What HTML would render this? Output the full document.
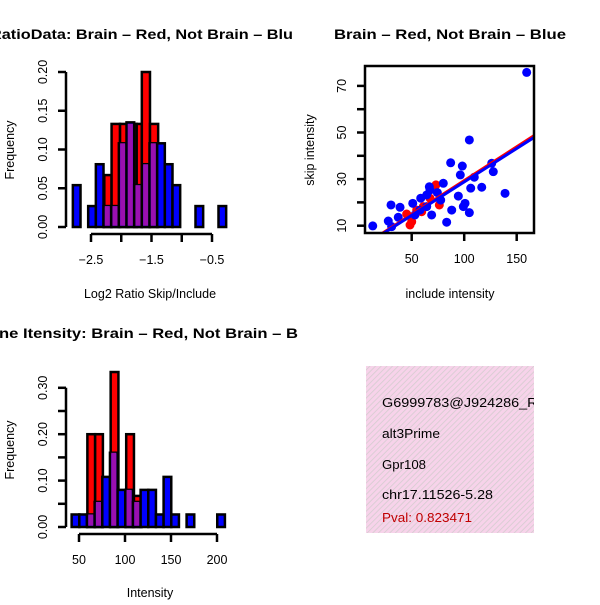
<!DOCTYPE html>
<html><head><meta charset="utf-8"><style>
html,body{margin:0;padding:0;background:#fff;}
svg text{font-family:"Liberation Sans",Arial,sans-serif;}
</style></head><body>
<svg id="s" width="600" height="600" viewBox="0 0 600 600" xmlns="http://www.w3.org/2000/svg">
<defs>
<pattern id="hatch" patternUnits="userSpaceOnUse" width="4" height="4" patternTransform="rotate(45)">
<rect width="4" height="4" fill="#f7d3ea"/>
<line x1="0" y1="0" x2="0" y2="4" stroke="#d4cccf" stroke-width="1.6"/>
</pattern>
<clipPath id="c1"><rect x="0" y="0" width="300" height="300"/></clipPath>
<clipPath id="c3"><rect x="0" y="300" width="300" height="300"/></clipPath>
<clipPath id="cs"><rect x="365" y="66" width="169" height="167"/></clipPath>
<clipPath id="cb"><rect x="366" y="366" width="168" height="167"/></clipPath>
</defs>
<g clip-path="url(#c1)"><text x="-10" y="39" textLength="303" lengthAdjust="spacingAndGlyphs" font-size="14" font-weight="bold">RatioData: Brain – Red, Not Brain – Blu</text></g>
<text x="334" y="39" textLength="232" lengthAdjust="spacingAndGlyphs" font-size="14" font-weight="bold">Brain – Red, Not Brain – Blue</text>
<g clip-path="url(#c3)"><text x="-1" y="338" textLength="299" lengthAdjust="spacingAndGlyphs" font-size="14" font-weight="bold">ne Itensity: Brain – Red, Not Brain – B</text></g>
<g id="h1"></g>
<g id="h2"></g>
<g id="sc"></g>
<g clip-path="url(#cb)">
<rect x="366" y="366" width="168" height="167" fill="url(#hatch)"/>
<text x="382" y="407" font-size="13" textLength="166" lengthAdjust="spacingAndGlyphs">G6999783@J924286_RC</text>
<text x="382" y="438" font-size="13" textLength="58" lengthAdjust="spacingAndGlyphs">alt3Prime</text>
<text x="382" y="469" font-size="13" textLength="44" lengthAdjust="spacingAndGlyphs">Gpr108</text>
<text x="382" y="499" font-size="13" textLength="111" lengthAdjust="spacingAndGlyphs">chr17.11526-5.28</text>
<text x="382" y="522" font-size="13" fill="#c00000" textLength="90" lengthAdjust="spacingAndGlyphs">Pval: 0.823471</text>
</g>
</svg>
<script>
// ---- Histogram 1 data ----
const h1BlueStart = -2.80;
const h1BlueStep = 0.1267;
const h1Blue = [0.054,0,0.027,0.081,0.027,0.027,0.108,0.135,0.054,0.081,0.108,0.108,0.081,0.054,0,0,0.027,0,0,0.027];
const h1RedEdges = [-2.28,-2.16,-2.02,-1.88,-1.745,-1.66,-1.525,-1.39];
const h1Red = [0.067,0.133,0.133,0.133,0.133,0.2,0.133];
const h1YTicks = [0,0.05,0.10,0.15,0.20];
const h1YLabels = ["0.00","0.05","0.10","0.15","0.20"];
const h1XTicks = [-2.5,-2.0,-1.5,-1.0,-0.5];
const h1XLabels = ["-2.5","","-1.5","","-0.5"];
// ---- Histogram 2 data ----
const h2BlueStart = 42.0;
const h2BlueStep = 8.33;
const h2Blue = [0.027,0.027,0.027,0.054,0.108,0.16,0.08,0.08,0.054,0.08,0.08,0.027,0.108,0.027,0,0.027,0,0,0,0.027];
const h2RedStart = 59.1;
const h2RedStep = 8.44;
const h2Red = [0.2,0.2,0,0.334,0,0.2,0.067];
const h2YTicks = [0,0.05,0.10,0.15,0.20,0.25,0.30];
const h2YLabels = ["0.00","","0.10","","0.20","","0.30"];
const h2XTicks = [50,100,150,200];
const h2XLabels = ["50","100","150","200"];
// ---- Scatter data ----
const blueX = [12.9,159.5,104.9,87.1,98.2,96.3,126.2,127.7,109.6,106.2,116.7,138.9,80.1,66.8,67.4,74.4,94.4,100.8,99.2,104.9,88.1,83.3,69.0,58.6,51.0,38.9,30.3,27.7,30.9,37.2,53.1,64.3,77.6,64.3,57.9];
const blueY = [9.9,75.8,46.8,37.0,35.6,31.8,36.8,33.2,30.8,26.1,26.5,23.9,28.2,26.7,25.3,24.2,22.7,19.6,18.2,15.6,16.7,11.5,14.6,21.8,19.6,17.9,18.9,12.0,9.6,13.6,14.6,23.2,21.0,18.2,16.7];
const redX = [48.4,50,45.2,54.8,61.1,73.1,76.3,67.4,59.5];
const redY = [10.3,11.7,15.0,16.7,18.2,27.5,18.9,21.8,16.0];
const fitSlope = [0.290,0.287];   // red, blue
const fitIntercept = [0.5,0.1];
const fitColor = ["#ff0000","#0000ff"];
const scXTicks = [50,100,150];
const scYTicks = [10,20,30,40,50,60,70];
const scYLabels = ["10","","30","","50","","70"];

const NS="http://www.w3.org/2000/svg";
function mk(parent,tag,attrs){const e=document.createElementNS(NS,tag);for(const k in attrs)e.setAttribute(k,attrs[k]);parent.appendChild(e);return e;}

function drawHist(g, xs, ys, blueStart, blueStep, blue, redEdges, red, yT, yL, xT, xL, axY, name){
  const base=ys(0);
  red.forEach((v,i)=>{ if(v<=0)return;
    const r=mk(g,'rect',{x:xs(redEdges[i]),y:ys(v),width:xs(redEdges[i+1])-xs(redEdges[i]),height:base-ys(v),fill:'#ff0000',stroke:'#000','stroke-width':2.5});
    
    
  });
  function redAt(x){for(let i=0;i<red.length;i++){if(x>=redEdges[i]&&x<redEdges[i+1])return red[i];}return 0;}
  blue.forEach((v,i)=>{ if(v<=0)return;
    const x0=blueStart+i*blueStep, x1=x0+blueStep;
    const r=mk(g,'rect',{x:xs(x0),y:ys(v),width:xs(x1)-xs(x0),height:base-ys(v),fill:'#0000ff',stroke:'#000','stroke-width':2.5});
    
    
    const rv=redAt((x0+x1)/2);
    if(rv>0){
      const m=Math.min(rv,v);
      const p=mk(g,'rect',{x:xs(x0)+1.3,y:ys(m),width:xs(x1)-xs(x0)-2.6,height:base-ys(m)-1.3,fill:'#9a10b0'});
      
      
    }
  });
  const ya=mk(g,'line',{x1:66,x2:66,y1:ys(yT[0]),y2:ys(yT[yT.length-1]),stroke:'#000','stroke-width':2.5});
  
  
  yT.forEach((t,i)=>{mk(g,'line',{x1:58,x2:66,y1:ys(t),y2:ys(t),stroke:'#000','stroke-width':2.5});
    if(yL[i]!==""){const tx=mk(g,'text',{x:0,y:0,'font-size':12.5,'text-anchor':'middle',transform:`translate(47,${ys(t)}) rotate(-90)`});tx.textContent=yL[i];
    
    }
  });
  const xa=mk(g,'line',{x1:xs(xT[0]),x2:xs(xT[xT.length-1]),y1:axY,y2:axY,stroke:'#000','stroke-width':2.5});
  
  
  xT.forEach((t,i)=>{mk(g,'line',{x1:xs(t),x2:xs(t),y1:axY,y2:axY+8,stroke:'#000','stroke-width':2.5});
    if(xL[i]!==""){const tx=mk(g,'text',{x:xs(t),y:axY+30,'font-size':12.5,'text-anchor':'middle'});tx.textContent=xL[i].replace('-','\u2212');
    
    }
  });
}
(function(){
  const g=document.getElementById('h1');
  const xs=v=>91+(v+2.5)*60.5, ys=v=>227-v*775;
  drawHist(g,xs,ys,h1BlueStart,h1BlueStep,h1Blue,h1RedEdges,h1Red,h1YTicks,h1YLabels,h1XTicks,h1XLabels,234,'hist1');
  let t=mk(g,'text',{x:150,y:298,'font-size':12.5,'text-anchor':'middle'});t.textContent='Log2 Ratio Skip/Include';
  
  
  t=mk(g,'text',{x:0,y:0,'font-size':12.5,'text-anchor':'middle',transform:'translate(14,150) rotate(-90)'});t.textContent='Frequency';
  
  
})();
(function(){
  const g=document.getElementById('h2');
  const xs=v=>79+(v-50)*0.92, ys=v=>527-v*464;
  const edges=h2Red.map((_,i)=>h2RedStart+i*h2RedStep).concat([h2RedStart+h2Red.length*h2RedStep]);
  drawHist(g,xs,ys,h2BlueStart,h2BlueStep,h2Blue,edges,h2Red,h2YTicks,h2YLabels,h2XTicks,h2XLabels,534,'hist2');
  let t=mk(g,'text',{x:150,y:597,'font-size':12.5,'text-anchor':'middle'});t.textContent='Intensity';
  
  
  t=mk(g,'text',{x:0,y:0,'font-size':12.5,'text-anchor':'middle',transform:'translate(14,450) rotate(-90)'});t.textContent='Frequency';
  
  
})();
(function(){
  const g=document.getElementById('sc');
  const xs=v=>411.7+(v-50)*1.05, ys=v=>225.7-(v-10)*2.33;
  const inner=mk(g,'g',{'clip-path':'url(#cs)'});
  redX.forEach((x,i)=>{const c=mk(inner,'circle',{cx:xs(x),cy:ys(redY[i]),r:4.5,fill:'#ff0000'});
    
    });
  blueX.forEach((x,i)=>{const c=mk(inner,'circle',{cx:xs(x),cy:ys(blueY[i]),r:4.5,fill:'#0000ff'});
    
    });
  fitSlope.forEach((s,i)=>{const a=0,b=200;
    const l=mk(inner,'line',{x1:xs(a),y1:ys(fitIntercept[i]+s*a),x2:xs(b),y2:ys(fitIntercept[i]+s*b),stroke:fitColor[i],'stroke-width':i==0?2.5:3});
    
    });
  const box=mk(g,'rect',{x:365,y:66,width:169,height:167,fill:'none',stroke:'#000','stroke-width':2.5});
  
  
  scXTicks.forEach(t=>{mk(g,'line',{x1:xs(t),x2:xs(t),y1:233,y2:241,stroke:'#000','stroke-width':2.5});
    const tx=mk(g,'text',{x:xs(t),y:263,'font-size':12.5,'text-anchor':'middle'});tx.textContent=String(t);
    
    });
  scYTicks.forEach((t,i)=>{mk(g,'line',{x1:357,x2:365,y1:ys(t),y2:ys(t),stroke:'#000','stroke-width':2.5});
    if(scYLabels[i]!==""){const tx=mk(g,'text',{x:0,y:0,'font-size':12.5,'text-anchor':'middle',transform:`translate(346,${ys(t)}) rotate(-90)`});tx.textContent=scYLabels[i];
    
    }});
  let t=mk(g,'text',{x:450,y:298,'font-size':12.5,'text-anchor':'middle'});t.textContent='include intensity';
  
  
  t=mk(g,'text',{x:0,y:0,'font-size':12.5,'text-anchor':'middle',transform:'translate(314,150) rotate(-90)'});t.textContent='skip intensity';
  
  
})();
</script>
</body></html>
